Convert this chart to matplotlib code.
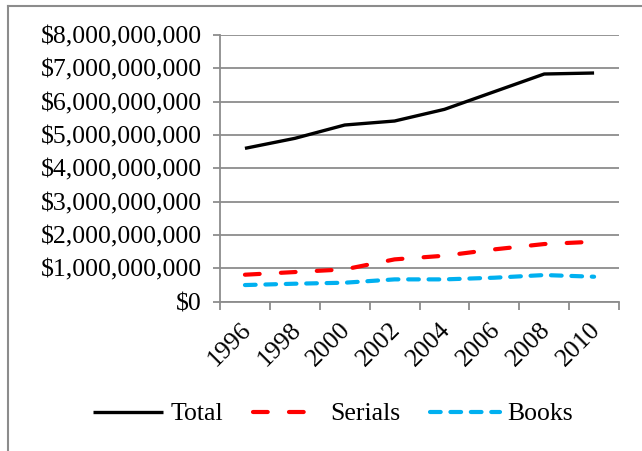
import matplotlib
matplotlib.use("Agg")
import matplotlib.pyplot as plt
import matplotlib.transforms as mtransforms
from matplotlib.lines import Line2D
from matplotlib.ticker import FuncFormatter, FixedLocator

years = ["1996", "1998", "2000", "2002", "2004", "2006", "2008", "2010"]
total = [4.60e9, 4.90e9, 5.30e9, 5.42e9, 5.77e9, 6.30e9, 6.83e9, 6.86e9]
serials = [0.81e9, 0.89e9, 0.97e9, 1.27e9, 1.38e9, 1.57e9, 1.73e9, 1.80e9]
books = [0.50e9, 0.54e9, 0.57e9, 0.67e9, 0.67e9, 0.72e9, 0.80e9, 0.75e9]

GRID = "#8c8c8c"
FONT = "Liberation Serif"
FS = 18.5

plt.rcParams["font.family"] = FONT
plt.rcParams["lines.scale_dashes"] = False

fig = plt.figure(figsize=(6.42, 4.51), dpi=100)
ax = fig.add_axes([0.3427, 0.331, 0.6215, 0.5914])

x = list(range(len(years)))
ax.plot(x, total, color="black", lw=2.4, solid_capstyle="butt", label="Total")
ax.plot(x, serials, color="#ff0000", lw=3.0, dashes=(10.6, 15.3),
        dash_capstyle="round", label="Serials")
ax.plot(x, books, color="#00b0f0", lw=3.0, dashes=(7.7, 7.0),
        dash_capstyle="round", label="Books")

ax.set_xlim(-0.5, len(years) - 0.5)
ax.set_ylim(0, 8e9)
ax.set_yticks([i * 1e9 for i in range(9)])
ax.yaxis.set_major_formatter(FuncFormatter(lambda v, p: "${:,.0f}".format(v)))
ax.grid(axis="y", color=GRID, lw=1.3)
ax.set_axisbelow(True)

ax.xaxis.set_major_locator(FixedLocator([i - 0.5 for i in range(len(years) + 1)]))
ax.xaxis.set_major_formatter(FuncFormatter(lambda v, p: ""))
ax.set_xticks(x, minor=True)
ax.set_xticklabels(years, minor=True, rotation=45, ha="right",
                   rotation_mode="anchor", fontsize=FS)
ax.tick_params(axis="x", which="minor", length=0, pad=9)
ax.tick_params(axis="x", which="major", length=6, width=1.3, color=GRID)
ax.tick_params(axis="y", length=5, width=1.3, color=GRID, labelsize=FS, pad=8)

# nudge rotated year labels a little left and down
shift = mtransforms.ScaledTranslation(-5 / 100, -4 / 100, fig.dpi_scale_trans)
for lab in ax.get_xticklabels(minor=True):
    lab.set_transform(lab.get_transform() + shift)

for s in ["top", "right"]:
    ax.spines[s].set_visible(False)
for s in ["left", "bottom"]:
    ax.spines[s].set_color(GRID)
    ax.spines[s].set_linewidth(1.3)

ax.legend(loc="center", bbox_to_anchor=(333 / 642, 1 - 414 / 451),
          bbox_transform=fig.transFigure, ncol=3, frameon=False,
          fontsize=FS, handlelength=2.72, handletextpad=0.3, columnspacing=1.15)

# chart frame (only top and left edges are visible in the crop)
fig.add_artist(Line2D([8 / 642, 1], [1 - 6 / 451, 1 - 6 / 451],
                      transform=fig.transFigure, color=GRID, lw=1.5))
fig.add_artist(Line2D([8 / 642, 8 / 642], [0, 1 - 6 / 451],
                      transform=fig.transFigure, color=GRID, lw=1.5))

fig.savefig("out.png", dpi=100)
